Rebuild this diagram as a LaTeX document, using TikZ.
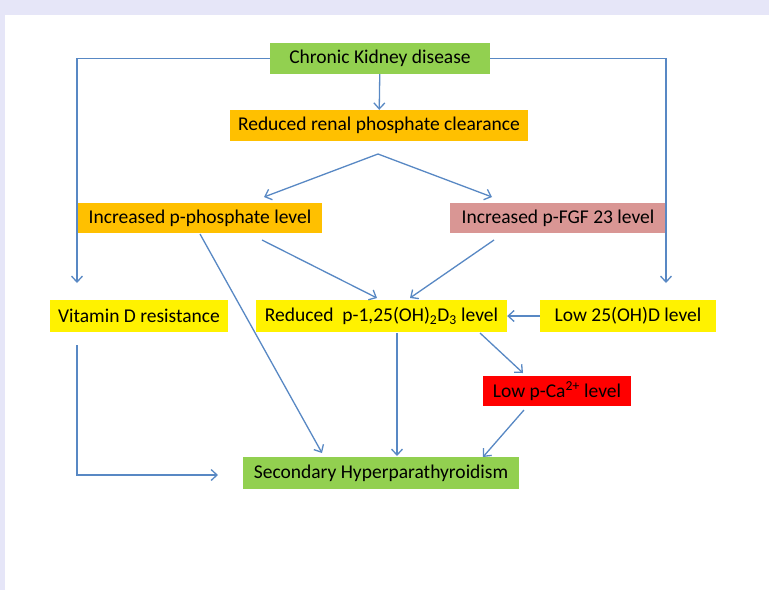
\documentclass[tikz,border=0pt]{standalone}
\usepackage{fontspec}
\setmainfont{Carlito}
\usetikzlibrary{arrows.meta}
\definecolor{linkblue}{RGB}{88,136,196}
\definecolor{ckdgreen}{RGB}{146,208,80}
\definecolor{amber}{RGB}{255,192,0}
\definecolor{rose}{RGB}{217,150,148}
\definecolor{pagelav}{RGB}{230,230,248}
\tikzset{
	box/.style={shape=rectangle, inner sep=0pt, minimum height=31pt, font=\fontsize{19.5}{22}\selectfont},
	link/.style={draw=linkblue, line width=1.3pt, -{Straight Barb[length=6pt,width=11pt]}},
	wire/.style={draw=linkblue, line width=1.3pt}
}
\begin{document}
\begin{tikzpicture}[x=1pt, y=-1pt]
	\useasboundingbox (0,0) rectangle (769,590);
	\fill[pagelav] (0,0) rectangle (769,590);
	\fill[white] (5,15) rectangle (769,590);

	\draw (380,58.5) node[box, fill=ckdgreen, minimum width=220pt](ckd){Chronic Kidney disease};
	\draw (379,125.5) node[box, fill=amber, minimum width=298pt](clear){Reduced renal phosphate clearance};
	\draw (200,218) node[box, fill=amber, minimum width=244pt, minimum height=30pt](phos){Increased p-phosphate level};
	\draw (558,218) node[box, fill=rose, minimum width=216pt, minimum height=30pt](fgf){Increased p-FGF 23 level};
	\draw (139,316) node[box, fill=yellow, minimum width=178pt, minimum height=32pt](vitd){Vitamin D resistance};
	\draw (381.5,316) node[box, fill=yellow, minimum width=251pt, minimum height=32pt](calc){Reduced\ \ p-1,25(OH)\textsubscript{2}D\textsubscript{3} level};
	\draw (628,316) node[box, fill=yellow, minimum width=176pt, minimum height=32pt](lowd){Low 25(OH)D level};
	\draw (557,391) node[box, fill=red, minimum width=148pt, minimum height=30pt](lowca){Low p-Ca\textsuperscript{2+} level};
	\draw (381,473) node[box, fill=ckdgreen, minimum width=276pt, minimum height=32pt](shpt){Secondary Hyperparathyroidism};

	\coordinate (split) at (378,154);
	\coordinate (vitdtop) at (77,283);
	\coordinate (lowdtop) at (666,283);
	\coordinate (shptin) at (218,475);

	\draw [link](ckd) -- (clear);
	\draw [wire](ckd.west) -| (77,270);
	\draw [link](77,270) -- (vitdtop);
	\draw [wire](ckd.east) -| (666,270);
	\draw [link](666,270) -- (lowdtop);
	\draw [link](split) -- (264,197);
	\draw [link](split) -- (492,197);
	\draw [link](262,240) -- (377,298);
	\draw [link](494,240) -- (410,298);
	\draw [link](200,234) -- (322,453);
	\draw [link](lowd) -- (calc);
	\draw [link](480,333) -- (523,373);
	\draw [link](397,333) -- (397,456);
	\draw [link](524,410) -- (483,457);
	\draw [wire](77,345) |- (140,475);
	\draw [link](140,475) -- (shptin);
\end{tikzpicture}
\end{document}
